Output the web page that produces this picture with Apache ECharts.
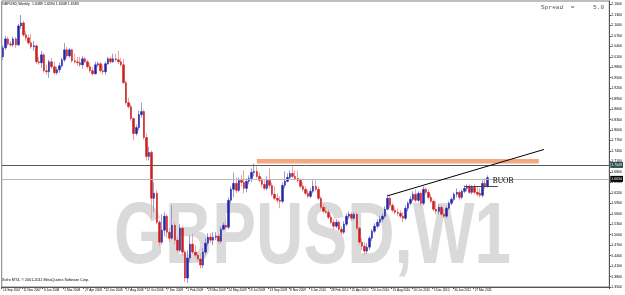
<!DOCTYPE html>
<html><head><meta charset="utf-8">
<script src="https://cdn.jsdelivr.net/npm/echarts@6/dist/echarts.min.js"></script>
<style>html,body{margin:0;padding:0;background:#fff;overflow:hidden}#c{width:625px;height:295px}</style>
</head><body><div id="c"></div>
<script>
// ---- data (GBPUSD weekly) ----
const tickLabels = ["16 Sep 2007","11 Nov 2007","6 Jan 2008","2 Mar 2008","27 Apr 2008","22 Jun 2008","17 Aug 2008","12 Oct 2008","7 Dec 2008","1 Feb 2009","29 Mar 2009","24 May 2009","19 Jul 2009","13 Sep 2009","8 Nov 2009","3 Jan 2010","28 Feb 2010","25 Apr 2010","20 Jun 2010","15 Aug 2010","10 Oct 2010","5 Dec 2010","30 Jan 2011","27 Mar 2011"];
const opens = [2.0100,2.0357,2.0614,2.0471,2.0443,2.0614,2.0443,2.0986,2.1071,2.0729,
2.0643,2.0500,2.0386,2.0414,1.9957,1.9929,2.0157,1.9700,1.9671,1.9957,
1.9814,1.9643,1.9729,1.9843,2.0014,2.0300,2.0129,2.0300,1.9986,1.9957,
1.9929,1.9871,2.0043,1.9957,1.9814,1.9700,1.9614,1.9871,1.9900,1.9700,
1.9671,1.9900,2.0043,1.9957,2.0043,2.0014,1.9957,1.9871,1.9357,1.8786,
1.8671,1.8329,1.7900,1.8071,1.8443,1.8529,1.7786,1.7243,1.7357,1.6043,
1.6186,1.5357,1.4786,1.5129,1.5529,1.5071,1.4900,1.5271,1.4843,1.4557,
1.5186,1.4500,1.3757,1.4329,1.4729,1.4500,1.4414,1.4300,1.4129,1.4500,
1.4757,1.4929,1.4843,1.4929,1.4957,1.4814,1.5157,1.5271,1.5214,1.5986,
1.6300,1.6471,1.6271,1.6557,1.6500,1.6329,1.6529,1.6614,1.6786,1.6814,
1.6671,1.6557,1.6443,1.6329,1.6557,1.6414,1.6157,1.6043,1.5986,1.5957,
1.6414,1.6529,1.6643,1.6757,1.6671,1.6614,1.6557,1.6386,1.6300,1.6186,
1.6100,1.6243,1.6386,1.6300,1.6043,1.5786,1.5671,1.5643,1.5500,1.5357,
1.5243,1.5357,1.5157,1.5071,1.5300,1.5529,1.5586,1.5471,1.5586,1.5186,
1.4786,1.4671,1.4529,1.4643,1.4900,1.5100,1.5243,1.5357,1.5443,1.5529,
1.5729,1.6043,1.5843,1.5700,1.5643,1.5614,1.5529,1.5471,1.5757,1.5900,
1.6014,1.6157,1.5986,1.6186,1.5900,1.6300,1.6214,1.6071,1.5957,1.5729,
1.5671,1.5786,1.5586,1.5529,1.5757,1.5900,1.6014,1.6157,1.6214,1.6071,
1.6243,1.6329,1.6386,1.6214,1.6357,1.6214,1.6186,1.6129,1.6471,1.6389];
const closes = [2.0357,2.0614,2.0471,2.0443,2.0614,2.0443,2.0986,2.1071,2.0729,2.0643,
2.0500,2.0386,2.0414,1.9957,1.9929,2.0157,1.9700,1.9671,1.9957,1.9814,
1.9643,1.9729,1.9843,2.0014,2.0300,2.0129,2.0300,1.9986,1.9957,1.9929,
1.9871,2.0043,1.9957,1.9814,1.9700,1.9614,1.9871,1.9900,1.9700,1.9671,
1.9900,2.0043,1.9957,2.0043,2.0014,1.9957,1.9871,1.9357,1.8786,1.8671,
1.8329,1.7900,1.8071,1.8443,1.8529,1.7786,1.7243,1.7357,1.6043,1.6186,
1.5357,1.4786,1.5129,1.5529,1.5071,1.4900,1.5271,1.4843,1.4557,1.5186,
1.4500,1.3757,1.4329,1.4729,1.4500,1.4414,1.4300,1.4129,1.4500,1.4757,
1.4929,1.4843,1.4929,1.4957,1.4814,1.5157,1.5271,1.5214,1.5986,1.6300,
1.6471,1.6271,1.6557,1.6500,1.6329,1.6529,1.6614,1.6786,1.6814,1.6671,
1.6557,1.6443,1.6329,1.6557,1.6414,1.6157,1.6043,1.5986,1.5957,1.6414,
1.6529,1.6643,1.6757,1.6671,1.6614,1.6557,1.6386,1.6300,1.6186,1.6100,
1.6243,1.6386,1.6300,1.6043,1.5786,1.5671,1.5643,1.5500,1.5357,1.5243,
1.5357,1.5157,1.5071,1.5300,1.5529,1.5586,1.5471,1.5586,1.5186,1.4786,
1.4671,1.4529,1.4643,1.4900,1.5100,1.5243,1.5357,1.5443,1.5529,1.5729,
1.6043,1.5843,1.5700,1.5643,1.5614,1.5529,1.5471,1.5757,1.5900,1.6014,
1.6157,1.5986,1.6186,1.5900,1.6300,1.6214,1.6071,1.5957,1.5729,1.5671,
1.5786,1.5586,1.5529,1.5757,1.5900,1.6014,1.6157,1.6214,1.6071,1.6243,
1.6329,1.6386,1.6214,1.6357,1.6214,1.6157,1.6129,1.6471,1.6386,1.6634];
const lows = [2.0014,2.0300,2.0414,2.0386,2.0386,2.0357,2.0414,2.0900,2.0671,2.0557,
2.0443,2.0329,2.0271,1.9900,1.9871,1.9786,1.9643,1.9586,1.9500,1.9757,
1.9586,1.9586,1.9643,1.9786,1.9957,2.0071,2.0071,1.9929,1.9900,1.9843,
1.9814,1.9757,1.9929,1.9757,1.9643,1.9557,1.9586,1.9814,1.9643,1.9586,
1.9586,1.9871,1.9900,1.9929,1.9957,1.9900,1.9814,1.9329,1.8729,1.8614,
1.8271,1.7700,1.7843,1.7986,1.8357,1.7729,1.7129,1.7129,1.5471,1.5643,
1.5300,1.4671,1.4729,1.4957,1.4900,1.4786,1.4843,1.4729,1.4471,1.4500,
1.4386,1.3643,1.3614,1.4214,1.4443,1.4329,1.4214,1.4043,1.4043,1.4414,
1.4671,1.4757,1.4700,1.4843,1.4729,1.4757,1.5129,1.5157,1.5157,1.5900,
1.6071,1.6186,1.6214,1.6386,1.6186,1.6214,1.6443,1.6500,1.6671,1.6614,
1.6500,1.6357,1.6271,1.6271,1.6329,1.6100,1.5986,1.5900,1.5757,1.5900,
1.6329,1.6500,1.6586,1.6614,1.6557,1.6500,1.6329,1.6243,1.6129,1.6043,
1.6043,1.6186,1.6243,1.5986,1.5729,1.5614,1.5586,1.5443,1.5300,1.5129,
1.5186,1.5100,1.4986,1.5014,1.5243,1.5443,1.5386,1.5414,1.5129,1.4700,
1.4557,1.4414,1.4443,1.4557,1.4814,1.5043,1.5186,1.5243,1.5357,1.5471,
1.5700,1.5757,1.5643,1.5586,1.5529,1.5471,1.5357,1.5414,1.5671,1.5843,
1.5957,1.5929,1.5929,1.5814,1.5843,1.6157,1.6014,1.5900,1.5671,1.5586,
1.5586,1.5529,1.5471,1.5471,1.5700,1.5843,1.5957,1.6071,1.5986,1.6014,
1.6186,1.6243,1.6157,1.6157,1.6157,1.6100,1.6071,1.6071,1.6300,1.6348];
const highs = [2.0443,2.0700,2.0671,2.0557,2.0671,2.0671,2.1043,2.1300,2.1129,2.0843,
2.0729,2.0757,2.0557,2.0443,2.0100,2.0271,2.0214,1.9871,2.0014,2.0071,
1.9957,1.9814,1.9929,2.0071,2.0500,2.0386,2.0357,2.0329,2.0186,2.0100,
2.0100,2.0129,2.0100,2.0014,1.9929,1.9814,1.9957,1.9957,1.9957,1.9871,
1.9957,2.0100,2.0100,2.0186,2.0186,2.0271,2.0071,2.0043,1.9414,1.8929,
1.8757,1.8357,1.8157,1.8557,1.8786,1.8586,1.7900,1.7529,1.7414,1.6500,
1.6271,1.5414,1.5586,1.5643,1.5586,1.5186,1.5843,1.5357,1.4957,1.5300,
1.5243,1.4557,1.4557,1.4986,1.5043,1.4700,1.4500,1.4471,1.4614,1.4900,
1.5043,1.5043,1.5071,1.5071,1.5014,1.5243,1.5357,1.5414,1.6071,1.6386,
1.6786,1.6643,1.6643,1.6700,1.6843,1.6614,1.6700,1.6900,1.7043,1.6957,
1.6786,1.6643,1.6557,1.6671,1.6900,1.6500,1.6386,1.6186,1.6100,1.6500,
1.6814,1.6757,1.6843,1.6957,1.6843,1.6843,1.6614,1.6500,1.6386,1.6300,
1.6329,1.6557,1.6557,1.6386,1.6100,1.5871,1.5814,1.5729,1.5586,1.5443,
1.5443,1.5414,1.5243,1.5386,1.5614,1.5671,1.5643,1.5643,1.5643,1.5243,
1.4900,1.4786,1.4757,1.4957,1.5157,1.5329,1.5443,1.5529,1.5614,1.5814,
1.6157,1.6100,1.5900,1.5786,1.5757,1.5700,1.5643,1.5843,1.5957,1.6100,
1.6243,1.6300,1.6243,1.6243,1.6386,1.6357,1.6300,1.6157,1.6014,1.5957,
1.5871,1.5843,1.5729,1.5814,1.5957,1.6071,1.6214,1.6329,1.6271,1.6300,
1.6414,1.6443,1.6443,1.6414,1.6443,1.6386,1.6329,1.6557,1.6614,1.6700];
const resistanceLevel = 1.7043;
const bidLevel = 1.6634;
const zoneTop = 1.7171;
const trendStart = [150, 1.6114];
const trendEnd = [211, 1.7443];
const buobLevel = 1.6394;
const buobRange = [180, 193];
const buobLabelAt = [191, 1.6540];
const zoneRange = [99, 209];
const totalSlots = 237;
const yMin = 1.35, yMax = 2.17, yStep = 0.03;

// ---- categories: weekly bars starting 16 Sep 2007 ----
const months = ["Jan","Feb","Mar","Apr","May","Jun","Jul","Aug","Sep","Oct","Nov","Dec"];
const categories = [];
for (let i = 0; i < totalSlots; i++) {
  const d = new Date(Date.UTC(2007, 8, 16 + 7 * i));
  categories.push(d.getUTCDate() + " " + months[d.getUTCMonth()] + " " + d.getUTCFullYear());
}
const full = opens.map((o, i) => [o, closes[i], lows[i], highs[i]]);
const bodies = opens.map((o, i) => [o, closes[i], Math.min(o, closes[i]), Math.max(o, closes[i])]);

const chart = echarts.init(document.getElementById('c'), null, {renderer: 'canvas'});
const tickShown = (idx) => idx % 8 === 0 && idx / 8 < tickLabels.length;
chart.setOption({
  animation: false,
  backgroundColor: '#ffffff',
  textStyle: {fontFamily: 'Liberation Sans, Arial, sans-serif'},
  grid: {left: 1, right: 13, top: 1, bottom: 8, show: true, borderColor: '#7f7f7f', borderWidth: 1, backgroundColor: 'transparent'},
  graphic: [
    {type: 'text', left: 2, top: 2, z: 10, style: {text: 'GBPUSD,Weekly  1.6389 1.6590 1.6348 1.6583', fontSize: 3.6, fill: '#000', fontFamily: 'Liberation Sans'}},
    {type: 'text', left: 541, top: 4, z: 10, style: {text: 'Spread  =     5.0', fontSize: 6.2, fill: '#555', fontFamily: 'Liberation Mono'}},
    {type: 'text', left: 2, top: 278, z: 10, style: {text: 'Xofro MT4, \u00a9 2001-2011 MetaQuotes Software Corp.', fontSize: 3.7, fill: '#000', fontFamily: 'Liberation Sans'}},
    {type: 'text', x: 114, y: 239, scaleX: 0.745, z: 0, style: {text: 'GBPUSD,W1', fontSize: 88, fontWeight: 'bold', fill: '#dadada', fontFamily: 'Liberation Sans', verticalAlign: 'middle'}}
  ],
  xAxis: {
    type: 'category', data: categories, boundaryGap: true,
    axisLine: {lineStyle: {color: '#555', width: 1}},
    axisTick: {show: true, interval: (i) => tickShown(i), length: 2, lineStyle: {color: '#555'}},
    axisLabel: {interval: (i) => tickShown(i), formatter: (v, i) => tickLabels[i / 8], fontSize: 3.1, color: '#000', margin: 2, align: 'left'},
    splitLine: {show: false}
  },
  yAxis: {
    type: 'value', position: 'right', min: yMin, max: yMax, interval: yStep, scale: true,
    axisLine: {show: true, lineStyle: {color: '#555'}},
    axisTick: {show: true, length: 2, lineStyle: {color: '#555'}},
    axisLabel: {fontSize: 3.5, color: '#000', margin: 2, formatter: (v) => v.toFixed(4), showMaxLabel: false},
    splitLine: {show: false}
  },
  series: [
    {
      type: 'candlestick', name: 'wicks', data: full, barWidth: 1, z: 3,
      itemStyle: {color: '#9a9ad8', color0: '#eba3a3', borderColor: '#9a9ad8', borderColor0: '#eba3a3', borderWidth: 1},
      markArea: {silent: true, itemStyle: {color: '#f4a880'}, data: [[{coord: [zoneRange[0], zoneTop]}, {coord: [zoneRange[1], resistanceLevel]}]]},
      markLine: {
        silent: true, symbol: ['none', 'none'], animation: false,
        data: [
          {yAxis: resistanceLevel, lineStyle: {color: '#4f5f5f', width: 1, type: 'solid'},
            label: {show: true, position: 'end', distance: 1, formatter: resistanceLevel.toFixed(4), fontSize: 3.5, color: '#fff', backgroundColor: '#2f5050', padding: [1, 1]}},
          {yAxis: bidLevel, lineStyle: {color: '#b8b8b8', width: 1, type: 'solid'},
            label: {show: true, position: 'end', distance: 1, formatter: bidLevel.toFixed(4), fontSize: 3.5, color: '#fff', backgroundColor: '#000', padding: [1, 1]}},
          [{coord: trendStart, lineStyle: {color: '#000', width: 1, type: 'solid'}, label: {show: false}}, {coord: trendEnd}],
          [{coord: [buobRange[0], buobLevel], lineStyle: {color: '#444', width: 1, type: 'solid'}, label: {show: false}}, {coord: [buobRange[1], buobLevel]}]
        ]
      },
      markPoint: {
        silent: true, symbol: 'circle', symbolSize: 0,
        data: [{coord: buobLabelAt, label: {show: true, position: 'right', distance: 0, formatter: 'BUOB', fontSize: 7.5, color: '#000', fontFamily: 'Liberation Serif'}}]
      }
    },
    {
      type: 'candlestick', name: 'bodies', data: bodies, barWidth: 2, z: 4,
      itemStyle: {color: '#2222aa', color0: '#cc1c1c', borderColor: '#2222aa', borderColor0: '#cc1c1c', borderWidth: 0.5}
    }
  ]
});
</script></body></html>
